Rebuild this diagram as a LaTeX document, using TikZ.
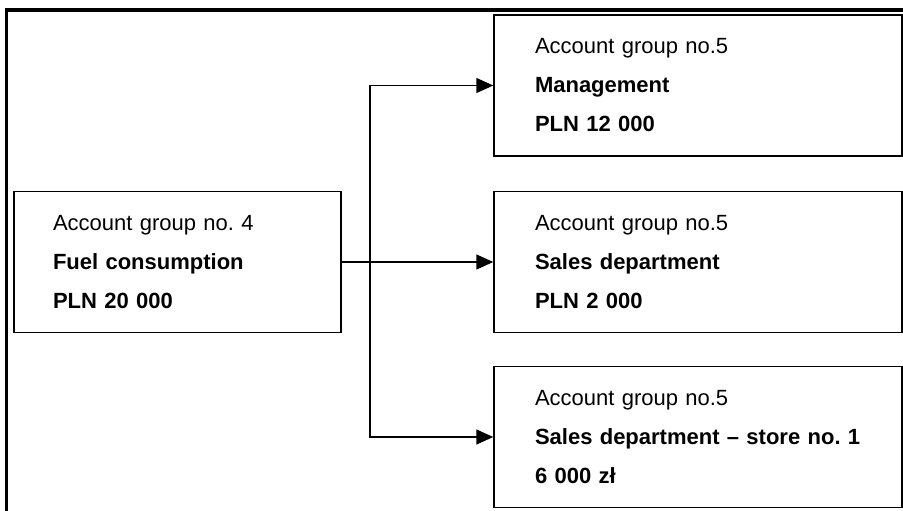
\documentclass[tikz,border=0pt]{standalone}
\usepackage{fontspec}
\setmainfont{Liberation Sans}
\usetikzlibrary{arrows.meta}

\begin{document}
\frenchspacing
\begin{tikzpicture}[x=1pt,y=-1pt,
    acct/.style={draw,line width=1.5pt,align=left,inner ysep=0pt,
      minimum height=141pt,font=\fontsize{22}{39}\selectfont},
    flow/.style={-{Triangle[length=17pt,width=15pt]},line width=1.5pt}]
      \useasboundingbox (0,0) rectangle (903,511);
      \draw[line width=3.8pt] (6.5,511) -- (6.5,10) -- (903,10);
      % source account
      \node[acct,inner xsep=39pt,text width=249pt] (fuel) at (177.5,262)
        {Account group no. 4\\ \textbf{Fuel consumption}\\ \textbf{PLN 20 000}};
      % target accounts
      \node[acct,inner xsep=41pt,text width=326pt] (mgmt) at (698,85.5)
        {Account group no.5\\ \textbf{Management}\\ \textbf{PLN 12 000}};
      \node[acct,inner xsep=41pt,text width=326pt] (sales) at (698,262)
        {Account group no.5\\ \textbf{Sales department}\\ \textbf{PLN 2 000}};
      \node[acct,inner xsep=41pt,text width=326pt] (store) at (698,437)
        {Account group no.5\\ \textbf{Sales department – store no. 1}\\ \textbf{6 000 zł}};
      \coordinate (split) at (370,262);
      \draw[line width=1.5pt] (fuel.east) -- (split);
      \draw[flow] (split) |- (mgmt.west);
      \draw[flow] (split) -- (sales.west);
      \draw[flow] (split) |- (store.west);
    \end{tikzpicture}
\end{document}
